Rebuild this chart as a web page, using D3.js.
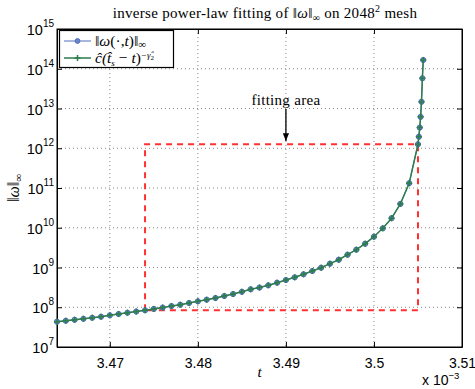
<!DOCTYPE html>
<html>
<head>
<meta charset="utf-8">
<script src="https://cdn.jsdelivr.net/npm/d3@7/dist/d3.min.js"></script>
<style>
  body { margin: 0; background: #fff; }
  svg text { fill: #000; }
</style>
</head>
<body>
<div id="chart"></div>
<script>
// t in units of 1e-3
var tValues = [3.464, 3.465, 3.466, 3.467, 3.468, 3.469, 3.470, 3.471, 3.472, 3.473,
               3.474, 3.475, 3.476, 3.477, 3.478, 3.479, 3.480, 3.481, 3.482, 3.483,
               3.484, 3.485, 3.486, 3.487, 3.488, 3.489, 3.490, 3.491, 3.492, 3.493,
               3.494, 3.495, 3.496, 3.497, 3.498, 3.499, 3.500, 3.501, 3.502, 3.503,
               3.504, 3.505, 3.5051, 3.5052, 3.5053, 3.5054, 3.5055, 3.5056];
var omegaValues = [4.33e7, 4.57e7, 4.84e7, 5.13e7, 5.45e7, 5.78e7, 6.27e7, 6.76e7, 7.29e7, 7.80e7,
                   8.41e7, 9.08e7, 9.79e7, 1.07e8, 1.16e8, 1.28e8, 1.41e8, 1.55e8, 1.71e8, 1.92e8,
                   2.15e8, 2.45e8, 2.83e8, 3.13e8, 3.56e8, 4.15e8, 4.85e8, 5.66e8, 6.75e8, 8.17e8,
                   9.89e8, 1.25e9, 1.57e9, 2.10e9, 2.81e9, 3.97e9, 5.96e9, 9.66e9, 1.74e10, 3.98e10,
                   1.32e11, 1.26e12, 1.95e12, 3.31e12, 6.17e12, 1.48e13, 5.75e13, 1.66e14];
var fitValues = [4.33e7, 4.57e7, 4.84e7, 5.13e7, 5.45e7, 5.78e7, 6.27e7, 6.76e7, 7.29e7, 7.80e7,
                 8.41e7, 9.08e7, 9.79e7, 1.07e8, 1.16e8, 1.28e8, 1.41e8, 1.55e8, 1.71e8, 1.92e8,
                 2.15e8, 2.45e8, 2.83e8, 3.13e8, 3.56e8, 4.15e8, 4.85e8, 5.66e8, 6.75e8, 8.17e8,
                 9.89e8, 1.25e9, 1.57e9, 2.10e9, 2.81e9, 3.97e9, 5.96e9, 9.66e9, 1.74e10, 3.98e10,
                 1.32e11, 1.26e12, 1.95e12, 3.31e12, 6.17e12, 1.48e13, 5.75e13, 1.66e14];
var xTicks = [3.47, 3.48, 3.49, 3.50, 3.51];
var yExponents = [7, 8, 9, 10, 11, 12, 13, 14, 15];
// fitting area corners (t, value)
var fitAreaT = [3.474, 3.505];
var fitAreaV = [8.41e7, 1.26e12];

var margin = {top: 29, right: 13, bottom: 42, left: 57},
    W = 475, H = 389,
    width = W - margin.left - margin.right,
    height = H - margin.top - margin.bottom;

var blue = "#4f6fbf", green = "#2e7d4c", red = "#ff3030";
var serif = "'Liberation Serif', serif";

var x = d3.scaleLinear().domain([3.464, 3.51]).range([0, width]);
var y = d3.scaleLog().domain([1e7, 1e15]).range([height, 0]);

var svg = d3.select("#chart").append("svg")
    .attr("width", W)
    .attr("height", H)
    .style("font-family", "'Liberation Sans', Arial, sans-serif");

var g = svg.append("g")
    .attr("transform", "translate(" + margin.left + "," + margin.top + ")");

// grid
g.selectAll(".gx").data(xTicks.slice(0, 4))
  .enter().append("line")
    .attr("x1", function(d) { return x(d); }).attr("x2", function(d) { return x(d); })
    .attr("y1", 0).attr("y2", height)
    .attr("stroke", "#888").attr("stroke-width", 1).attr("stroke-dasharray", "1,3");
g.selectAll(".gy").data(yExponents.slice(1, 8))
  .enter().append("line")
    .attr("y1", function(d) { return y(Math.pow(10, d)); }).attr("y2", function(d) { return y(Math.pow(10, d)); })
    .attr("x1", 0).attr("x2", width)
    .attr("stroke", "#888").attr("stroke-width", 1).attr("stroke-dasharray", "1,3");

// axes (ticks inward, like matlab)
var xAxis = d3.axisBottom(x).tickValues(xTicks).tickSizeInner(-5).tickSizeOuter(0)
    .tickFormat(function(d) { return String(+d.toFixed(2)); });
var gx = g.append("g").attr("transform", "translate(0," + height + ")").call(xAxis);
gx.selectAll("text").attr("dy", "1.3em").style("font-size", "14px")
  .style("font-family", "'Liberation Sans', Arial, sans-serif");
g.append("g").call(d3.axisTop(x).tickValues(xTicks).tickSizeInner(-5).tickSizeOuter(0).tickFormat(""));

var yAxis = d3.axisLeft(y).tickValues(yExponents.map(function(e) { return Math.pow(10, e); }))
    .tickSizeInner(-5).tickSizeOuter(0).tickFormat("");
g.append("g").call(yAxis);
g.append("g").attr("transform", "translate(" + width + ",0)")
  .call(d3.axisRight(y).tickValues(yExponents.map(function(e) { return Math.pow(10, e); }))
    .tickSizeInner(-5).tickSizeOuter(0).tickFormat(""));
g.selectAll(".domain").attr("stroke", "#000");

// y tick labels with superscripts
var yl = g.selectAll(".ylab").data(yExponents).enter().append("text")
    .attr("x", -3)
    .attr("y", function(d) { return y(Math.pow(10, d)) + 6; })
    .attr("text-anchor", "end")
    .style("font-size", "14.5px");
yl.append("tspan").text("10");
yl.append("tspan").attr("dy", -8).style("font-size", "10px").text(function(d) { return d; });

// frame
g.append("rect").attr("width", width).attr("height", height)
  .attr("fill", "none").attr("stroke", "#000").attr("stroke-width", 1);

// fitting area
var fa = fitAreaT, fv = fitAreaV;
g.append("path")
  .attr("d", d3.line()([[x(fa[0]), y(fv[0])], [x(fa[0]), y(fv[1])], [x(fa[1]), y(fv[1])],
                        [x(fa[1]), y(fv[0])], [x(fa[0]), y(fv[0])]]))
  .attr("fill", "none").attr("stroke", red).attr("stroke-width", 2).attr("stroke-dasharray", "6,5");

var dataPts = tValues.map(function(t, i) { return [t, omegaValues[i]]; });
var fitPts = tValues.map(function(t, i) { return [t, fitValues[i]]; });
var line = d3.line().x(function(d) { return x(d[0]); }).y(function(d) { return y(d[1]); });

// measured series (blue, circles)
g.append("path").attr("d", line(dataPts)).attr("fill", "none").attr("stroke", blue).attr("stroke-width", 1);
g.selectAll(".dot").data(dataPts).enter().append("circle")
  .attr("cx", function(d) { return x(d[0]); }).attr("cy", function(d) { return y(d[1]); })
  .attr("r", 2.6).attr("fill", "#6a86c8").attr("stroke", blue).attr("stroke-width", 1);

// fit series (green, plus)
g.append("path").attr("d", line(fitPts)).attr("fill", "none").attr("stroke", green).attr("stroke-width", 1.5);
g.selectAll(".plus").data(fitPts).enter().append("path")
  .attr("transform", function(d) { return "translate(" + x(d[0]) + "," + y(d[1]) + ")"; })
  .attr("d", "M-3,0H3M0,-3V3")
  .attr("stroke", green).attr("stroke-width", 1.5);

// annotation
var ax = x(3.49);
g.append("text").attr("x", ax).attr("y", 105 - margin.top).attr("text-anchor", "middle")
  .style("font-family", serif).style("font-size", "15px").style("letter-spacing", "0.3px").text("fitting area");
svg.append("defs").append("marker").attr("id", "arr")
  .attr("viewBox", "0 0 10 10").attr("refX", 10).attr("refY", 5)
  .attr("markerWidth", 6).attr("markerHeight", 9).attr("orient", "auto")
  .append("path").attr("d", "M0,1L10,5L0,9Z").attr("fill", "#000");
g.append("line").attr("x1", ax).attr("x2", ax).attr("y1", 109 - margin.top).attr("y2", 141 - margin.top)
  .attr("stroke", "#000").attr("stroke-width", 1.3).attr("marker-end", "url(#arr)");

// legend
var lg = svg.append("g");
lg.append("rect").attr("x", 59.5).attr("y", 30.5).attr("width", 114).attr("height", 37)
  .attr("fill", "#fff").attr("stroke", "#000").attr("stroke-width", 1.2);
lg.append("line").attr("x1", 64).attr("x2", 91).attr("y1", 41).attr("y2", 41).attr("stroke", blue);
lg.append("circle").attr("cx", 77.5).attr("cy", 41).attr("r", 2.4).attr("fill", "#6a86c8").attr("stroke", blue);
lg.append("line").attr("x1", 64).attr("x2", 91).attr("y1", 58).attr("y2", 58).attr("stroke", green).attr("stroke-width", 1.5);
lg.append("path").attr("d", "M74.5,58H80.5M77.5,55V61").attr("stroke", green).attr("stroke-width", 1.5);
var t1 = lg.append("text").attr("x", 95).attr("y", 46).style("font-family", serif).style("font-size", "15.5px");
t1.append("tspan").text("\u2016");
t1.append("tspan").style("font-style", "italic").text("\u03c9");
t1.append("tspan").text("(\u00b7,");
t1.append("tspan").style("font-style", "italic").text("t");
t1.append("tspan").text(")\u2016");
t1.append("tspan").attr("dy", 2).style("font-size", "11px").text("\u221e");
var t2 = lg.append("text").attr("x", 95).attr("y", 63).style("font-family", serif).style("font-size", "15.5px");
t2.append("tspan").style("font-style", "italic").text("\u0109(");
t2.append("tspan").style("font-style", "italic").text("t\u0302");
t2.append("tspan").attr("dy", 3).style("font-size", "9px").style("font-style", "italic").text("s");
t2.append("tspan").attr("dy", -3).text(" \u2212 ");
t2.append("tspan").style("font-style", "italic").text("t");
t2.append("tspan").text(")");
t2.append("tspan").attr("dy", -5).style("font-size", "9px").style("font-style", "italic").text("\u2212\u03b3\u0302");
t2.append("tspan").attr("dy", 2).style("font-size", "7px").text("2");

// title
var tt = svg.append("text").attr("x", 265).attr("y", 18).attr("text-anchor", "middle")
  .style("font-family", serif).style("font-size", "15px").style("letter-spacing", "0.3px");
tt.append("tspan").text("inverse power-law fitting of \u2016");
tt.append("tspan").style("font-style", "italic").text("\u03c9");
tt.append("tspan").text("\u2016");
tt.append("tspan").attr("dy", 3).style("font-size", "10px").text("\u221e");
tt.append("tspan").attr("dy", -3).text(" on 2048");
tt.append("tspan").attr("dy", -6).style("font-size", "10px").text("2");
tt.append("tspan").attr("dy", 6).text(" mesh");

// axis labels
svg.append("text").attr("x", margin.left + width / 2).attr("y", 377).attr("text-anchor", "middle")
  .style("font-family", serif).style("font-style", "italic").style("font-size", "15px").text("t");
var yt = svg.append("text").attr("transform", "translate(19,188) rotate(-90)").attr("text-anchor", "middle")
  .style("font-family", serif).style("font-size", "16px");
yt.append("tspan").text("\u2016");
yt.append("tspan").style("font-style", "italic").text("\u03c9");
yt.append("tspan").text("\u2016");
yt.append("tspan").attr("dy", 3).style("font-size", "11px").text("\u221e");

var ex = svg.append("text").attr("x", 422).attr("y", 385).style("font-size", "14px");
ex.append("tspan").text("x 10");
ex.append("tspan").attr("dy", -6).style("font-size", "9.5px").text("\u22123");
</script>
</body>
</html>
